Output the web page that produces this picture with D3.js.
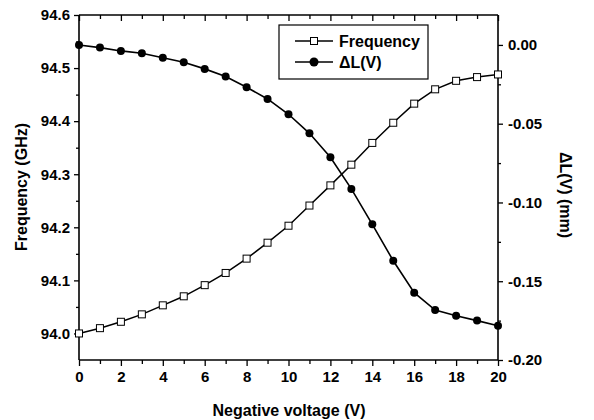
<!DOCTYPE html>
<html><head><meta charset="utf-8">
<script src="https://cdn.jsdelivr.net/npm/d3@7"></script>
<style>body{margin:0;background:#fff}svg{display:block}text{font-family:"Liberation Sans",Arial,sans-serif;font-weight:bold;fill:#000}</style>
</head><body>
<svg id="c" width="594" height="420"></svg>
<script>
const voltage = [0,1,2,3,4,5,6,7,8,9,10,11,12,13,14,15,16,17,18,19,20];
const frequency = [94.000,94.010,94.022,94.036,94.053,94.070,94.091,94.114,94.141,94.171,94.203,94.241,94.279,94.318,94.359,94.397,94.433,94.460,94.476,94.483,94.488];
const deltaL = [0.000,-0.0017,-0.0038,-0.0053,-0.0081,-0.011,-0.0152,-0.0201,-0.0269,-0.0343,-0.044,-0.0561,-0.0713,-0.0914,-0.1139,-0.137,-0.1573,-0.1683,-0.1719,-0.175,-0.1782];
const xTicks = [0,2,4,6,8,10,12,14,16,18,20];
const yLeftTicks = [94.0,94.1,94.2,94.3,94.4,94.5,94.6];
const yRightTicks = [0.00,-0.05,-0.10,-0.15,-0.20];
const seriesNames = ["Frequency","\u0394L(V)"];

const svg = d3.select("#c");
const L=79,R=498,T=15,B=360;
const x = d3.scaleLinear().domain([0,20]).range([L,R]);
const yL = d3.scaleLinear().domain([93.95,94.6]).range([B,T]);
const yR = d3.scaleLinear().domain([-0.20,0.019]).range([B,T]);
const fs = "15px";

// axes
const gB = svg.append("g").attr("transform",`translate(0,${B})`)
  .call(d3.axisBottom(x).tickValues(d3.range(0,21,1)).tickSize(5).tickFormat(d=>xTicks.includes(d)?d3.format("d")(d):""));
gB.selectAll(".tick line").attr("y2",d=>d%2===0?6:4);
const gT = svg.append("g").attr("transform",`translate(0,${T})`)
  .call(d3.axisTop(x).tickValues(d3.range(0,21,1)).tickSize(-5).tickFormat(""));
gT.selectAll(".tick line").attr("y2",d=>d%2===0?6:4);
const gL = svg.append("g").attr("transform",`translate(${L},0)`)
  .call(d3.axisLeft(yL).tickValues(d3.range(0,13).map(i=>+(94.0+i*0.05).toFixed(2)).filter(v=>v<=94.6)).tickSize(5).tickPadding(4)
  .tickFormat(d=>yLeftTicks.some(t=>Math.abs(t-d)<1e-6)?d3.format(".1f")(d):""));
gL.selectAll(".tick line").attr("x2",d=>yLeftTicks.some(t=>Math.abs(t-d)<1e-6)?-5:-3);
const rT = d3.range(0,9).map(i=>+(-0.20+i*0.025).toFixed(3));
const gR = svg.append("g").attr("transform",`translate(${R},0)`)
  .call(d3.axisRight(yR).tickValues(rT).tickSize(5).tickPadding(5)
  .tickFormat(d=>yRightTicks.some(t=>Math.abs(t-d)<1e-6)?d3.format(".2f")(d).replace("\u2212","-"):""));
gR.selectAll(".tick line").attr("x2",d=>yRightTicks.some(t=>Math.abs(t-d)<1e-6)?5:3);
[gB,gT,gL,gR].forEach(g=>{
  g.attr("font-family",null).attr("font-size",null);
  g.select(".domain").attr("stroke","#000").attr("stroke-width",1.6);
  g.selectAll(".tick line").attr("stroke","#000").attr("stroke-width",1.3);
  g.selectAll("text").style("font-size",fs).style("font-weight","bold").style("font-family","'Liberation Sans',Arial,sans-serif").attr("fill","#000");
});
gB.selectAll("text").attr("dy","0.95em");
gB.select(".domain").attr("d",`M${L},0H${R}`);
gT.select(".domain").attr("d",`M${L},0H${R}`);
gL.select(".domain").attr("d",`M0,${B}V${T}`);
gR.select(".domain").attr("d",`M0,${B}V${T}`);

// lines
const lf = d3.line().x((d,i)=>x(voltage[i])).y(d=>yL(d));
const lr = d3.line().x((d,i)=>x(voltage[i])).y(d=>yR(d));
svg.append("path").attr("d",lf(frequency)).attr("fill","none").attr("stroke","#000").attr("stroke-width",1.5);
svg.append("path").attr("d",lr(deltaL)).attr("fill","none").attr("stroke","#000").attr("stroke-width",1.6);
const s=7;
svg.append("g").selectAll("rect").data(frequency).join("rect")
  .attr("x",(d,i)=>x(voltage[i])-s/2).attr("y",d=>yL(d)-s/2).attr("width",s).attr("height",s)
  .attr("fill","#fff").attr("stroke","#000").attr("stroke-width",1);
svg.append("g").selectAll("circle").data(deltaL).join("circle")
  .attr("cx",(d,i)=>x(voltage[i])).attr("cy",d=>yR(d)).attr("r",4).attr("fill","#000");

// legend
const lg = svg.append("g");
lg.append("rect").attr("x",279).attr("y",25).attr("width",149).attr("height",54).attr("fill","#fff").attr("stroke","#000").attr("stroke-width",1.2);
[0,1].forEach(i=>{
  const yy = 41+i*21;
  lg.append("line").attr("x1",295).attr("x2",333).attr("y1",yy).attr("y2",yy).attr("stroke","#000").attr("stroke-width",1.5);
  if(i===0) lg.append("rect").attr("x",314-s/2).attr("y",yy-s/2).attr("width",s).attr("height",s).attr("fill","#fff").attr("stroke","#000");
  else lg.append("circle").attr("cx",314).attr("cy",yy).attr("r",4.5).attr("fill","#000");
  lg.append("text").attr("x",339).attr("y",yy).attr("dy","0.36em").style("font-size","16px").text(seriesNames[i]);
});

// titles
svg.append("text").attr("x",289).attr("y",410).attr("dy","0.35em").attr("text-anchor","middle").style("font-size","16px").text("Negative voltage (V)");
svg.append("text").attr("transform","translate(21,187) rotate(-90)").attr("dy","0.35em").attr("text-anchor","middle").style("font-size","16px").text("Frequency (GHz)");
svg.append("text").attr("transform","translate(566,195) rotate(90)").attr("dy","0.35em").attr("text-anchor","middle").style("font-size","16px").text("\u0394L(V) (mm)");
</script>
</body></html>
